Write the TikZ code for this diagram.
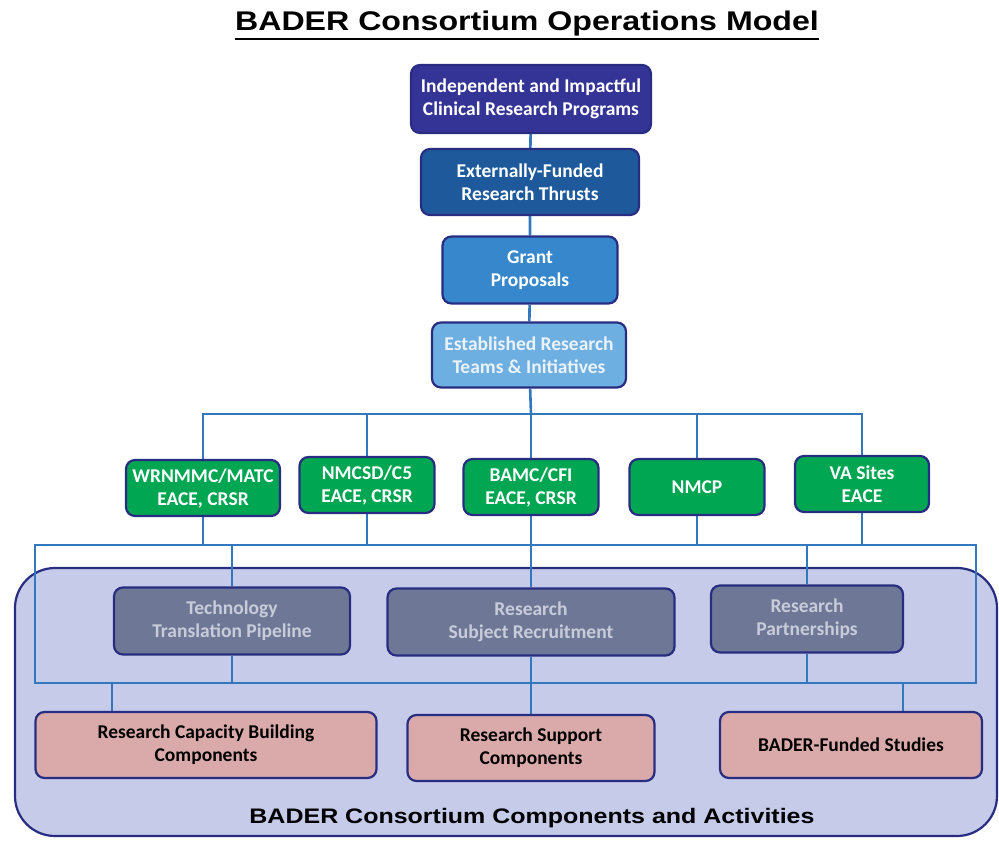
\documentclass[tikz,border=0pt]{standalone}
\usepackage{fontspec}
\setmainfont{Carlito}
\newfontfamily\headfont{Liberation Sans}[FakeStretch=1.19]
\usetikzlibrary{positioning}
\definecolor{edge}{RGB}{40,45,130}
\definecolor{wire}{RGB}{50,120,190}
\definecolor{tierA}{RGB}{52,52,150}
\definecolor{tierB}{RGB}{30,90,155}
\definecolor{tierC}{RGB}{55,135,205}
\definecolor{tierD}{RGB}{110,175,225}
\definecolor{site}{RGB}{0,166,81}
\definecolor{slate}{RGB}{110,120,150}
\definecolor{lilac}{RGB}{197,203,232}
\definecolor{rose}{RGB}{218,170,170}
\pgfdeclarelayer{back}
\pgfdeclarelayer{wires}
\pgfsetlayers{back,wires,main}
\begin{document}
\begin{tikzpicture}[x=1pt, y=-1pt,
  box/.style={draw=edge, line width=2.2pt, rounded corners=9pt, align=center, inner sep=0pt,
    text=white, font=\fontsize{19.5}{23}\selectfont\bfseries},
  tier/.style={box, fill=#1},
  green/.style={box, fill=site, minimum height=56pt},
  grey/.style={box, fill=slate, text={rgb,255:red,200;green,204;blue,218}, minimum height=67pt},
  pink/.style={box, fill=rose, text=black, minimum height=66pt},
  link/.style={draw=wire, line width=2.6pt}]
  \useasboundingbox (0,0) rectangle (999,842);
  % title
  \node[inner sep=0pt, anchor=base, font=\headfont\fontsize{27}{30}\selectfont\bfseries] (title) at (527,31)
    {BADER Consortium Operations Model};
  \draw[line width=2pt] ([yshift=-8pt]title.base west) -- ([yshift=-8pt]title.base east);
  % top chain
  \node[tier=tierA, minimum width=240pt, minimum height=68pt] (ind) at (531,99)
    {Independent and Impactful\\Clinical Research Programs};
  \node[tier=tierB, minimum width=218pt, minimum height=66pt] (ext) at (530,182)
    {Externally-Funded\\Research Thrusts};
  \node[tier=tierC, minimum width=175pt, minimum height=67pt] (grant) at (530,270)
    {Grant\\Proposals};
  \node[tier=tierD, minimum width=194pt, minimum height=65pt, text={rgb,255:red,235;green,242;blue,250}] (est) at (529,355)
    {Established Research\\Teams \& Initiatives};
  % sites
  \node[green, minimum width=154pt] (wr) at (203,488) {WRNMMC/MATC\\EACE, CRSR};
  \node[green, minimum width=135pt] (nmcsd) at (367,485) {NMCSD/C5\\EACE, CRSR};
  \node[green, minimum width=135pt] (bamc) at (531,487) {BAMC/CFI\\EACE, CRSR};
  \node[green, minimum width=135pt] (nmcp) at (697,487) {NMCP};
  \node[green, minimum width=134pt] (vas) at (862,484) {VA Sites\\EACE};
  % components
  \node[grey, minimum width=236pt] (tech) at (232,621) {Technology\\Translation Pipeline};
  \node[grey, minimum width=287pt] (subj) at (531,622) {Research\\Subject Recruitment};
  \node[grey, minimum width=192pt] (part) at (807,619) {Research\\Partnerships};
  \node[pink, minimum width=341pt] (cap) at (206,745) {Research Capacity Building\\Components};
  \node[pink, minimum width=247pt] (supp) at (531,748) {Research Support\\Components};
  \node[pink, minimum width=262pt] (fund) at (851,745) {BADER-Funded Studies};
  \node[inner sep=0pt, anchor=base, font=\headfont\fontsize{21}{24}\selectfont\bfseries] (caption) at (532,823)
    {BADER Consortium Components and Activities};
  \begin{pgfonlayer}{back}
    \draw[draw=edge, fill=lilac, line width=2.2pt, rounded corners=40pt] (15,568) rectangle (997,836);
  \end{pgfonlayer}
  \coordinate (hubA) at (531,414);
  \coordinate (hubB) at (531,545);
  \coordinate (hubC) at (531,683);
  \coordinate (dropL) at (112,683);
  \coordinate (dropR) at (903,683);
  \begin{pgfonlayer}{wires}
    \draw[link] (ind) -- (ext) -- (grant) -- (est) -- (hubA);
    \draw[link] (wr.north) |- (hubA) -| (vas.north);
    \foreach \n in {nmcsd,bamc,nmcp}
      \draw[link] (\n.north) -- (\n.north |- hubA);
    \draw[link] (35,545) rectangle (976,683);
    \foreach \n in {wr,nmcsd,bamc,nmcp,vas}
      \draw[link] (\n.south) -- (\n.south |- hubB);
    \foreach \n in {tech,subj,part} {
      \draw[link] (\n.north) -- (\n.north |- hubB);
      \draw[link] (\n.south) -- (\n.south |- hubC);
    }
    \draw[link] (hubC) -- (supp.north);
    \draw[link] (dropL) -- (dropL |- cap.north);
    \draw[link] (dropR) -- (dropR |- fund.north);
  \end{pgfonlayer}
\end{tikzpicture}
\end{document}
